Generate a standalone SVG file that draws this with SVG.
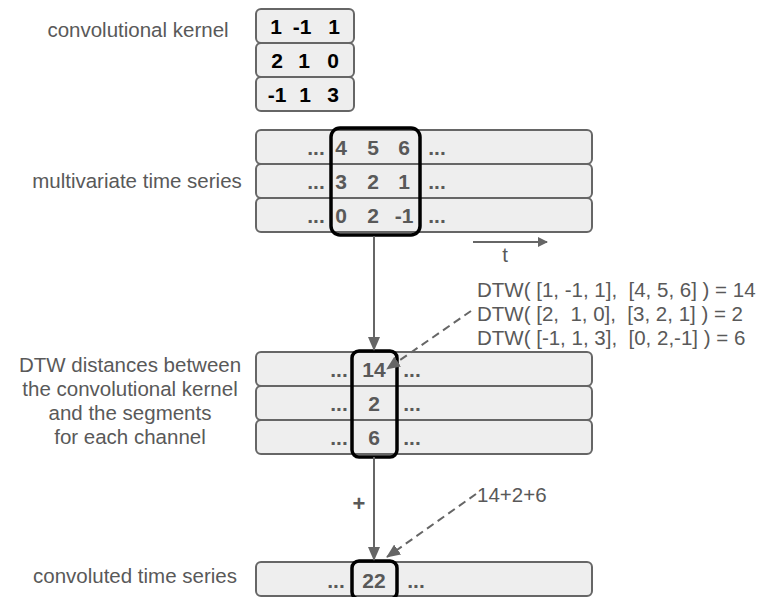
<svg xmlns="http://www.w3.org/2000/svg" width="765" height="597" viewBox="0 0 765 597">
<style>
.lbl{font-family:"Liberation Sans",Arial,sans-serif;font-size:20.5px;fill:#595959;}
.num{font-family:"Liberation Sans",Arial,sans-serif;font-size:21px;font-weight:bold;fill:#595959;text-anchor:middle;}
.knum{font-family:"Liberation Sans",Arial,sans-serif;font-size:21px;font-weight:bold;fill:#000;text-anchor:middle;}
.row{fill:#eeeeee;stroke:#666;stroke-width:2;}
.sel{fill:none;stroke:#000;stroke-width:3.5;}
.ln{stroke:#666;stroke-width:2;fill:none;}
.dash{stroke:#666;stroke-width:2;fill:none;stroke-dasharray:8,5;}
</style>
<defs>
<marker id="ah" markerWidth="10" markerHeight="10" refX="9" refY="5" orient="auto" markerUnits="userSpaceOnUse" viewBox="0 0 10 10">
<path d="M0,0 L10,5 L0,10 z" fill="#666"/>
</marker>
<marker id="ahs" markerWidth="14" markerHeight="12" refX="13" refY="6" orient="auto" markerUnits="userSpaceOnUse" viewBox="0 0 14 12">
<path d="M0,0 L14,6 L0,12 z" fill="#666"/>
</marker>
</defs>

<g id="labels">
<text class="lbl" x="138" y="37" text-anchor="middle">convolutional kernel</text>
<text class="lbl" x="137" y="188" text-anchor="middle">multivariate time series</text>
<text class="lbl" x="130" y="372" text-anchor="middle">DTW distances between</text>
<text class="lbl" x="130" y="396" text-anchor="middle">the convolutional kernel</text>
<text class="lbl" x="130" y="420" text-anchor="middle">and the segments</text>
<text class="lbl" x="130" y="444" text-anchor="middle">for each channel</text>
<text class="lbl" x="135" y="583" text-anchor="middle">convoluted time series</text>
</g>

<g id="kernel">
<rect class="row" x="256" y="9" width="98" height="34" rx="5"/>
<rect class="row" x="256" y="43" width="98" height="34" rx="5"/>
<rect class="row" x="256" y="77" width="98" height="34" rx="5"/>
<text class="knum" x="276" y="34">1</text><text class="knum" x="302" y="34">-1</text><text class="knum" x="334" y="34">1</text>
<text class="knum" x="277" y="68">2</text><text class="knum" x="304" y="68">1</text><text class="knum" x="333" y="68">0</text>
<text class="knum" x="277" y="102">-1</text><text class="knum" x="305" y="102">1</text><text class="knum" x="333" y="102">3</text>
</g>

<g id="series">
<rect class="row" x="256" y="130" width="336" height="34" rx="5"/>
<rect class="row" x="256" y="164" width="336" height="34" rx="5"/>
<rect class="row" x="256" y="198" width="336" height="34" rx="5"/>
<text class="num" x="316" y="155">...</text><text class="num" x="341" y="155">4</text><text class="num" x="373" y="155">5</text><text class="num" x="404" y="155">6</text><text class="num" x="437" y="155">...</text>
<text class="num" x="316" y="189">...</text><text class="num" x="341" y="189">3</text><text class="num" x="373" y="189">2</text><text class="num" x="404" y="189">1</text><text class="num" x="437" y="189">...</text>
<text class="num" x="316" y="223">...</text><text class="num" x="341" y="223">0</text><text class="num" x="373" y="223">2</text><text class="num" x="404" y="223">-1</text><text class="num" x="437" y="223">...</text>
<rect class="sel" x="331" y="128" width="89" height="107" rx="9"/>
</g>

<g id="time-axis">
<line class="ln" x1="473" y1="242" x2="547" y2="242" marker-end="url(#ah)"/>
<text class="lbl" x="505" y="262" text-anchor="middle">t</text>
</g>

<g id="dtw-text">
<text class="lbl" x="477" y="297" xml:space="preserve">DTW( [1, -1, 1],  [4, 5, 6] ) = 14</text>
<text class="lbl" x="477" y="321" xml:space="preserve">DTW( [2,  1, 0],  [3, 2, 1] ) = 2</text>
<text class="lbl" x="477" y="345" xml:space="preserve">DTW( [-1, 1, 3],  [0, 2,-1] ) = 6</text>
</g>

<g id="distances">
<rect class="row" x="256" y="352" width="336" height="34" rx="5"/>
<rect class="row" x="256" y="386" width="336" height="34" rx="5"/>
<rect class="row" x="256" y="420" width="336" height="34" rx="5"/>
<text class="num" x="339" y="377">...</text><text class="num" x="374" y="377">14</text><text class="num" x="412" y="377">...</text>
<text class="num" x="339" y="411">...</text><text class="num" x="374" y="411">2</text><text class="num" x="412" y="411">...</text>
<text class="num" x="339" y="445">...</text><text class="num" x="374" y="445">6</text><text class="num" x="412" y="445">...</text>
<rect class="sel" x="352" y="351" width="45" height="106" rx="7"/>
</g>

<g id="result">
<rect class="row" x="256" y="562" width="336" height="34" rx="5"/>
<text class="num" x="336" y="588">...</text><text class="num" x="374" y="588">22</text><text class="num" x="416" y="588">...</text>
<rect class="sel" x="352" y="561" width="45" height="38" rx="7"/>
</g>

<g id="sum-label">
<text class="lbl" x="477" y="502">14+2+6</text>
<text class="num" x="359" y="511" style="font-size:22px">+</text>
</g>

<g id="connectors">
<line class="ln" x1="374" y1="236" x2="374" y2="350" marker-end="url(#ahs)"/>
<line class="ln" x1="374" y1="457" x2="374" y2="560" marker-end="url(#ahs)"/>
<line class="dash" x1="471" y1="311" x2="387" y2="369" marker-end="url(#ahs)"/>
<line class="dash" x1="476" y1="494" x2="387" y2="557" marker-end="url(#ahs)"/>
</g>
</svg>
